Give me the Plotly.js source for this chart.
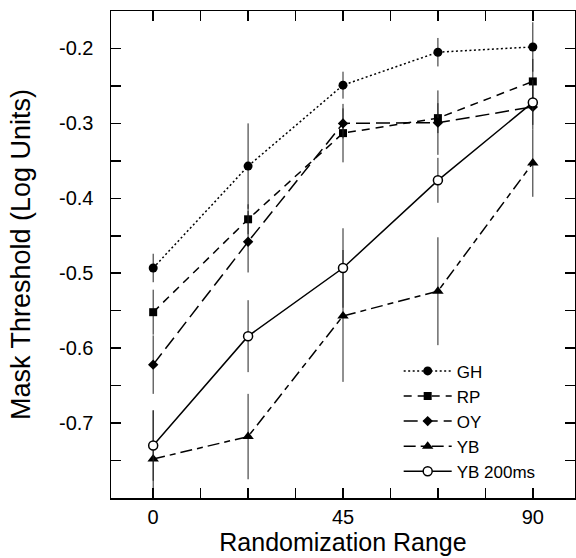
<!DOCTYPE html>
<html>
<head>
<meta charset="utf-8">
<script src="https://cdn.plot.ly/plotly-3.0.1.min.js"></script>
<style>html,body{margin:0;padding:0;background:#fff}#chart{width:576px;height:558px}</style>
</head>
<body>
<div id="chart"></div>
<script>
// Randomization range (x) positions
const ranges = [0, 22.5, 45, 67.5, 90];

// Series values (mask threshold, log units)
const GH     = [-0.493, -0.357, -0.249, -0.205, -0.198];
const RP     = [-0.552, -0.428, -0.313, -0.293, -0.244];
const OY     = [-0.622, -0.458, -0.300, -0.299, -0.278];
const YB     = [-0.748, -0.718, -0.557, -0.524, -0.353];
const YB200  = [-0.730, -0.584, -0.493, -0.376, -0.272];

// Error bar half-lengths (estimated)
const GH_err    = [0.019, 0.057, 0.018, 0.019, 0.033];
const RP_err    = [0.030, 0.020, 0.039, 0.020, 0.030];
const OY_err    = [0.039, 0.041, 0.020, 0.043, 0.030];
const YB_err    = [0.065, 0.057, 0.088, 0.072, 0.045];
const YB200_err = [0.047, 0.048, 0.053, 0.030, 0.030];

// Tick positions / labels
const xTickVals = [0, 11.25, 22.5, 33.75, 45, 56.25, 67.5, 78.75, 90];
const xTickText = ['0', '', '', '', '45', '', '', '', '90'];
const yTickVals = [-0.8, -0.75, -0.7, -0.65, -0.6, -0.55, -0.5, -0.45, -0.4, -0.35, -0.3, -0.25, -0.2, -0.15];
const yTickText = ['', '', '-0.7', '', '-0.6', '', '-0.5', '', '-0.4', '', '-0.3', '', '-0.2', ''];

function errY(arr) {
  return {type: 'data', array: arr, visible: true, color: '#222', thickness: 1, width: 0};
}

const traces = [
  {name: 'GH', x: ranges, y: GH, error_y: errY(GH_err), mode: 'lines+markers',
   line: {color: '#000', width: 1.5, dash: '2px,2.5px'},
   marker: {symbol: 'circle', size: 9, color: '#000'}},
  {name: 'RP', x: ranges, y: RP, error_y: errY(RP_err), mode: 'lines+markers',
   line: {color: '#000', width: 1.5, dash: '8px,6px'},
   marker: {symbol: 'square', size: 8, color: '#000'}},
  {name: 'OY', x: ranges, y: OY, error_y: errY(OY_err), mode: 'lines+markers',
   line: {color: '#000', width: 1.5, dash: '14px,6px'},
   marker: {symbol: 'diamond', size: 8, color: '#000'}},
  {name: 'YB', x: ranges, y: YB, error_y: errY(YB_err), mode: 'lines+markers',
   line: {color: '#000', width: 1.5, dash: '12px,5px,6px,5px'},
   marker: {symbol: 'triangle-up', size: 10, color: '#000'}},
  {name: 'YB 200ms', x: ranges, y: YB200, error_y: errY(YB200_err), mode: 'lines+markers',
   line: {color: '#000', width: 1.5},
   marker: {symbol: 'circle', size: 9, color: '#fff', line: {color: '#000', width: 1.5}}}
];

const font = 'Liberation Sans, Arial, Helvetica, sans-serif';

const layout = {
  width: 576, height: 558,
  margin: {l: 111, r: 1, t: 11, b: 60},
  paper_bgcolor: '#fff', plot_bgcolor: '#fff',
  font: {family: font, color: '#000', size: 20},
  showlegend: true,
  legend: {x: 0.62, y: 0.297, xanchor: 'left', yanchor: 'top',
           bgcolor: 'rgba(0,0,0,0)', font: {size: 17, family: font}, itemwidth: 48,
           tracegroupgap: 0},
  xaxis: {
    range: [-10, 100], tickmode: 'array', tickvals: xTickVals, ticktext: xTickText,
    ticks: 'inside', ticklen: 10, tickwidth: 1.5, tickcolor: '#000',
    showline: true, linewidth: 1.5, linecolor: '#000', mirror: 'allticks',
    showgrid: false, zeroline: false,
    tickfont: {size: 20},
    title: {text: 'Randomization Range', font: {size: 25}, standoff: 4}
  },
  yaxis: {
    range: [-0.8, -0.15], tickmode: 'array', tickvals: yTickVals, ticktext: yTickText,
    ticks: 'inside', ticklen: 10, tickwidth: 1.5, tickcolor: '#000',
    showline: true, linewidth: 1.5, linecolor: '#000', mirror: 'allticks',
    showgrid: false, zeroline: false,
    tickfont: {size: 20}, ticklabelstandoff: 12,
    title: {text: 'Mask Threshold (Log Units)', font: {size: 27}, standoff: 20}
  }
};

Plotly.newPlot('chart', traces, layout, {displayModeBar: false, staticPlot: true});
</script>
</body>
</html>
